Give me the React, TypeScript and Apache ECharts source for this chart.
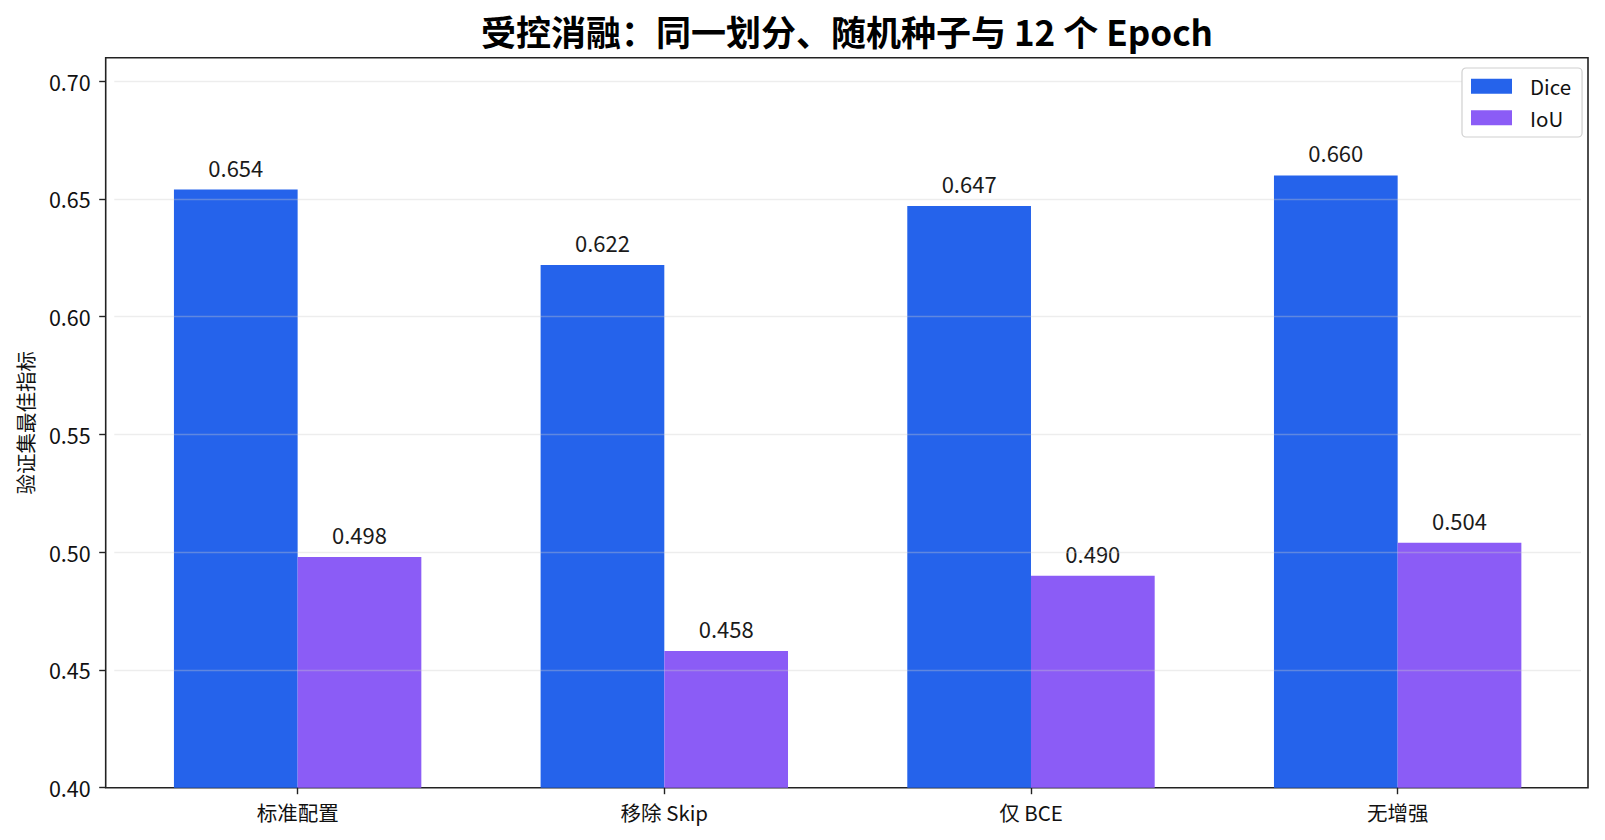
import React, { useEffect, useRef } from "react";
import * as echarts from "echarts";

const categories = ["标准配置", "移除 Skip", "仅 BCE", "无增强"];
const diceValues = [0.654, 0.622, 0.647, 0.66];
const iouValues = [0.498, 0.458, 0.49, 0.504];
const yTicks = [0.4, 0.45, 0.5, 0.55, 0.6, 0.65, 0.7];
const gridLines = [0.45, 0.5, 0.55, 0.6, 0.65, 0.7];

const FONT = '"Noto Sans CJK SC", "Noto Sans", sans-serif';

export default function App() {
  const ref = useRef<HTMLDivElement>(null);
  useEffect(() => {
    if (!ref.current) return;
    const chart = echarts.init(ref.current, null, { renderer: "svg" });
    const labelStyle = {
      show: true,
      position: "top" as const,
      distance: 12,
      fontSize: 22,
      color: "#1a1a1a",
      fontFamily: FONT,
      formatter: (p: any) => Number(p.value).toFixed(3),
    };
    chart.setOption({
      animation: false,
      textStyle: { fontFamily: FONT },
      graphic: [
        {
          type: "text",
          x: 847,
          y: 30,
          style: {
            text: "受控消融：同一划分、随机种子与 12 个 Epoch",
            font: `bold 35px ${FONT}`,
            fill: "#000",
            textAlign: "center",
            textVerticalAlign: "middle",
          },
        },
      ],
      legend: {
        orient: "vertical",
        left: 1462,
        top: 68,
        padding: [8, 11, 9, 9],
        itemWidth: 41,
        itemHeight: 15,
        itemGap: 11,
        icon: "rect",
        borderColor: "#d0d0d0",
        borderWidth: 1.2,
        borderRadius: 4,
        backgroundColor: "#fff",
        textStyle: { fontSize: 20.5, color: "#111", fontFamily: FONT, padding: [0, 0, 0, 13] },
        data: ["Dice", "IoU"],
      },
      grid: [
        {
          left: 105.7,
          top: 57.7,
          width: 1482.3,
          height: 730,
          show: true,
          borderColor: "#222",
          borderWidth: 1.6,
          backgroundColor: "transparent",
        },
        {
          left: 114.3,
          top: 57.7,
          width: 1466.7,
          height: 730,
        },
      ],
      xAxis: [
        { type: "value", gridIndex: 0, min: 0, max: 1, show: false },
        {
          type: "category",
          gridIndex: 1,
          data: categories,
          axisLine: { show: false },
          axisTick: { show: true, alignWithLabel: true, length: 6.5, lineStyle: { color: "#222", width: 1.4 } },
          axisLabel: { fontSize: 20.5, color: "#111", margin: 14, fontFamily: FONT },
          splitLine: { show: false },
        },
      ],
      yAxis: [
        {
          type: "value",
          gridIndex: 0,
          min: 0.4,
          max: 0.71,
          interval: 0.05,
          name: "验证集最佳指标",
          nameLocation: "middle",
          nameGap: 70,
          nameTextStyle: { fontSize: 20.5, color: "#111", fontFamily: FONT },
          axisLine: { show: false },
          axisTick: {
            show: true,
            length: 6.5,
            customValues: yTicks,
            lineStyle: { color: "#222", width: 1.4 },
          },
          axisLabel: {
            fontSize: 21.5,
            color: "#111",
            margin: 15,
            fontFamily: FONT,
            customValues: yTicks,
            formatter: (v: number) => v.toFixed(2),
          },
          splitLine: { show: false },
        },
        {
          type: "value",
          gridIndex: 1,
          min: 0.4,
          max: 0.71,
          interval: 0.05,
          z: 3,
          axisLine: { show: false },
          axisTick: { show: false, customValues: gridLines },
          axisLabel: { show: false },
          splitLine: { show: true, lineStyle: { color: "rgba(204,204,204,0.35)", width: 1.3 } },
        },
      ],
      series: [
        {
          name: "Dice",
          type: "bar",
          xAxisIndex: 1,
          yAxisIndex: 1,
          data: diceValues,
          barWidth: 123.7,
          barGap: "0%",
          itemStyle: { color: "#2563eb" },
          label: labelStyle,
        },
        {
          name: "IoU",
          type: "bar",
          xAxisIndex: 1,
          yAxisIndex: 1,
          data: iouValues,
          barWidth: 123.7,
          barGap: "0%",
          itemStyle: { color: "#8b5cf6" },
          label: labelStyle,
        },
      ],
    });
    return () => chart.dispose();
  }, []);
  return (
    <div
      ref={ref}
      style={{ position: "absolute", left: 0, top: 0, width: 1605, height: 840, background: "#fff" }}
    />
  );
}
